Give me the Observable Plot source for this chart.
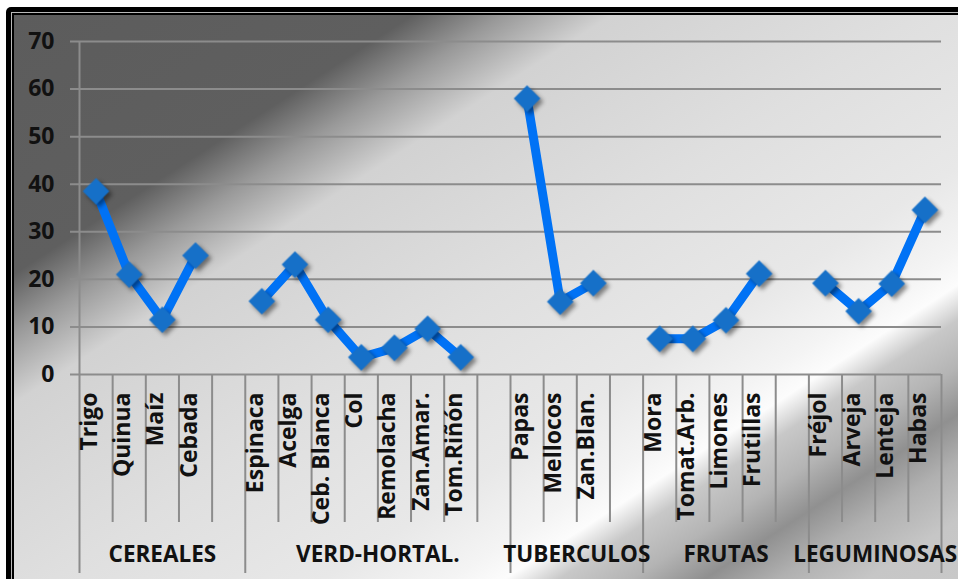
<!DOCTYPE html>
<html>
<head>
<meta charset="utf-8">
<script src="https://cdn.jsdelivr.net/npm/d3@7"></script>
<script src="https://cdn.jsdelivr.net/npm/@observablehq/plot@0.6"></script>
<style>
  html, body { margin: 0; padding: 0; width: 958px; height: 579px; overflow: hidden; background: #fff; }
  .layer { position: absolute; }
  #f1 { left: 6px; top: 7px; width: 1000px; height: 700px; background: #000; border-top-left-radius: 5px; }
  #f2 { left: 11px; top: 12px; width: 1000px; height: 700px; background: #b8b8b8; }
  #f3 { left: 12px; top: 13px; width: 1000px; height: 700px; background: #000; }
  #bg { left: 14px; top: 15px; width: 944px; height: 564px;
        background: linear-gradient(147deg,
          #5c5c5c 0%, #5f5f5f 22%, #999999 27%, #d2d2d2 33%, #dfdfdf 50%,
          #e8e8e8 65%, #f4f4f4 72%, #fcfcfc 75%, #c8c8c8 78%, #b4b4b4 82%,
          #909090 86%, #b0b0b0 90%, #c6c6c6 95%, #c8c8c8 100%); }
  #chart { position: absolute; left: 0; top: 0; }
  #chart g[aria-label="dot"] { filter: drop-shadow(3px 3px 2px rgba(0,0,0,0.45)); }
</style>
</head>
<body>
<div id="f1" class="layer"></div>
<div id="f2" class="layer"></div>
<div id="f3" class="layer"></div>
<div id="bg" class="layer"></div>
<div id="chart"></div>
<script>
const groups = ["CEREALES", "VERD-HORTAL.", "TUBERCULOS", "FRUTAS", "LEGUMINOSAS"];
const groupSizes = [5, 8, 4, 5, 4];
const categories = [
  "Trigo", "Quinua", "Maíz", "Cebada", "",
  "Espinaca", "Acelga", "Ceb. Blanca", "Col", "Remolacha", "Zan.Amar.", "Tom.Riñón", "",
  "Papas", "Mellocos", "Zan.Blan.", "",
  "Mora", "Tomat.Arb.", "Limones", "Frutillas", "",
  "Fréjol", "Arveja", "Lenteja", "Habas"
];
const values = [
  38.5, 21.0, 11.5, 25.0, null,
  15.4, 23.1, 11.5, 3.6, 5.6, 9.6, 3.6, null,
  58.0, 15.3, 19.2, null,
  7.5, 7.5, 11.4, 21.2, null,
  19.2, 13.3, 19.1, 34.6
];
const yTicks = [0, 10, 20, 30, 40, 50, 60, 70];

const data = categories.map((c, i) => ({cat: c, pos: i + 0.5, value: values[i]}));
const labelData = data.filter(d => d.cat !== "");

// group boundaries from the group sizes
const bounds = [0];
groupSizes.forEach(s => bounds.push(bounds[bounds.length - 1] + s));
const groupData = groups.map((g, i) => ({name: g, center: (bounds[i] + bounds[i + 1]) / 2}));
const allSeps = d3.range(1, categories.length + 1);
const longSeps = allSeps.filter(b => bounds.includes(b));
const shortSeps = allSeps.filter(b => !bounds.includes(b));

const grid = "#8c8c8c";
const font = "'Open Sans', sans-serif";

const chart = Plot.plot({
  width: 958,
  height: 579,
  marginLeft: 79,
  marginRight: 17,
  marginTop: 41,
  marginBottom: 205,
  style: {background: "transparent", color: "#111", fontFamily: font, fontSize: "23px", fontWeight: "bold", overflow: "visible"},
  x: {domain: [0, categories.length], axis: null},
  y: {domain: [0, 70], ticks: yTicks, tickSize: 0, tickPadding: 25, label: null, tickFormat: d => String(d)},
  marks: [
    Plot.ruleY(yTicks, {stroke: grid, strokeWidth: 2, insetLeft: -9}),
    Plot.ruleX([0], {stroke: grid, strokeWidth: 2, insetBottom: -199}),
    Plot.ruleX(shortSeps, {stroke: grid, strokeWidth: 2, insetTop: 333, insetBottom: -148}),
    Plot.ruleX(longSeps, {stroke: grid, strokeWidth: 2, insetTop: 333, insetBottom: -199}),
    Plot.line(data, {x: "pos", y: "value", stroke: "#0072F5", strokeWidth: 9, strokeLinejoin: "round"}),
    Plot.dot(data, {x: "pos", y: "value", symbol: "diamond2", r: 12, fill: "#1670C8", stroke: "none"}),
    Plot.text(labelData, {x: "pos", text: "cat", frameAnchor: "bottom", rotate: -90, textAnchor: "end", dy: 18, dx: 1, fontSize: 23, fontWeight: "bold", fill: "#111"}),
    Plot.text(groupData, {x: "center", text: "name", frameAnchor: "bottom", dy: 187, fontSize: 22.5, fontWeight: "bold", fill: "#111"})
  ]
});
document.getElementById("chart").appendChild(chart);
</script>
</body>
</html>
